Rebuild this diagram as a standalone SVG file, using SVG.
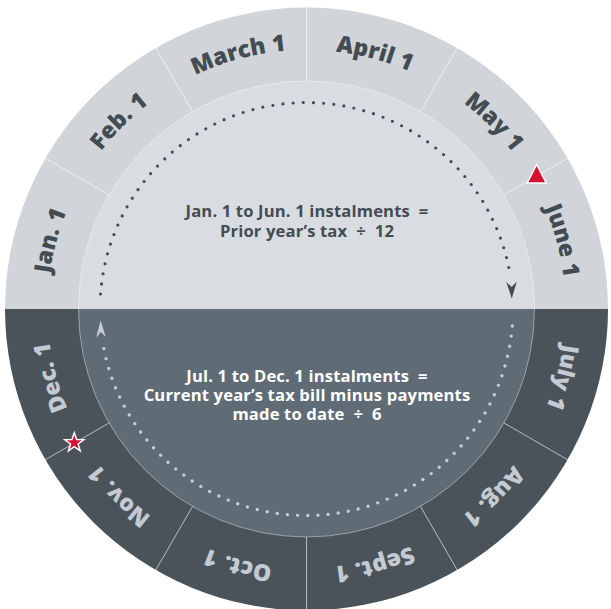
<svg xmlns="http://www.w3.org/2000/svg" width="611" height="609" viewBox="0 0 611 609">
  <style>
    .lbl { font-family: "Open Sans", "Noto Sans", "Liberation Sans", sans-serif; font-weight: 800; font-size: 23px; }
    .lbl-top { fill: #434c53; }
    .lbl-bot { fill: #c3cad1; }
    .ctr { font-family: "Open Sans", "Noto Sans", "Liberation Sans", sans-serif; font-weight: 700; font-size: 16.6px; text-anchor: middle; letter-spacing: 0.15px; }
    .ctr-top { fill: #434c53; }
    .ctr-bot { fill: #ffffff; }
    .sep { stroke: #ffffff; stroke-opacity: 0.6; stroke-width: 1; fill: none; }
    .dots-top { fill: none; stroke: #434c53; stroke-width: 3.2; stroke-linecap: round; stroke-dasharray: 0 10.2; }
    .dots-bot { fill: none; stroke: #c8ced4; stroke-width: 3.4; stroke-linecap: round; stroke-dasharray: 0 10.2; }
  </style>
  <defs>
    <path id="ring" d="M306.5,50 A259,259 0 1 1 306.5,568 A259,259 0 1 1 306.5,50"/>
  </defs>

  <g id="wheel">
    <path d="M5,309 A301.5,301.5 0 0 1 608,309 Z" fill="#d1d5d9"/>
    <path d="M608,309 A301.5,301.5 0 0 1 5,309 Z" fill="#4a535a"/>
    <path d="M78.5,309 A228,228 0 0 1 534.5,309 Z" fill="#d9dce0"/>
    <path d="M534.5,309 A228,228 0 0 1 78.5,309 Z" fill="#606c75"/>
    <circle cx="306.5" cy="309" r="228" fill="none" stroke="#ffffff" stroke-opacity="0.4" stroke-width="1"/>
  </g>

  <g id="connectors">
    <line class="sep" x1="306.5" y1="81" x2="306.5" y2="7.5"/>
    <line class="sep" x1="420.5" y1="111.55" x2="457.25" y2="47.9"/>
    <line class="sep" x1="503.95" y1="195" x2="567.6" y2="158.25"/>
    <line class="sep" x1="503.95" y1="423" x2="567.6" y2="459.75"/>
    <line class="sep" x1="420.5" y1="506.45" x2="457.25" y2="570.1"/>
    <line class="sep" x1="306.5" y1="537" x2="306.5" y2="610.5"/>
    <line class="sep" x1="192.5" y1="506.45" x2="155.75" y2="570.1"/>
    <line class="sep" x1="109.05" y1="423" x2="45.4" y2="459.75"/>
    <line class="sep" x1="109.05" y1="195" x2="45.4" y2="158.25"/>
    <line class="sep" x1="192.5" y1="111.55" x2="155.75" y2="47.9"/>
    <path class="dots-top" d="M100.55,294 A206.5,206.5 0 0 1 510.5,277"/>
    <path d="M506.3,282 L511.8,298.5 L516.8,281.6 L511.6,287 Z" fill="#434c53"/>
    <path class="dots-bot" d="M512.3,326 A206.5,206.5 0 0 1 102.65,342"/>
    <path d="M96.2,337.5 L100.6,320.5 L105.8,337 L100.9,332 Z" fill="#c8ced4"/>
  </g>

  <g id="months">
    <text class="lbl lbl-top" text-anchor="middle"><textPath href="#ring" startOffset="4.1667%">April 1</textPath></text>
    <text class="lbl lbl-top" text-anchor="middle"><textPath href="#ring" startOffset="12.5%">May 1</textPath></text>
    <text class="lbl lbl-top" text-anchor="middle"><textPath href="#ring" startOffset="20.8333%">June 1</textPath></text>
    <text class="lbl lbl-bot" text-anchor="middle"><textPath href="#ring" startOffset="29.1667%">July 1</textPath></text>
    <text class="lbl lbl-bot" text-anchor="middle"><textPath href="#ring" startOffset="37.5%">Aug. 1</textPath></text>
    <text class="lbl lbl-bot" text-anchor="middle"><textPath href="#ring" startOffset="45.8333%">Sept. 1</textPath></text>
    <text class="lbl lbl-bot" text-anchor="middle"><textPath href="#ring" startOffset="54.1667%">Oct. 1</textPath></text>
    <text class="lbl lbl-bot" text-anchor="middle"><textPath href="#ring" startOffset="62.5%">Nov. 1</textPath></text>
    <text class="lbl lbl-bot" text-anchor="middle"><textPath href="#ring" startOffset="70.8333%">Dec. 1</textPath></text>
    <text class="lbl lbl-top" text-anchor="middle"><textPath href="#ring" startOffset="79.1667%">Jan. 1</textPath></text>
    <text class="lbl lbl-top" text-anchor="middle"><textPath href="#ring" startOffset="87.5%">Feb. 1</textPath></text>
    <text class="lbl lbl-top" text-anchor="middle"><textPath href="#ring" startOffset="95.8333%">March 1</textPath></text>
  </g>

  <g id="markers">
    <path id="triangle" d="M536.7,164.5 L546.2,183 L527.2,183 Z" fill="#d6112f" stroke="#ffffff" stroke-width="1.5" stroke-linejoin="miter"/>
    <path id="star" d="M74.3,432.7 L76.66,439.45 L83.81,439.6 L78.1,443.93 L80.18,450.8 L74.3,446.7 L68.42,450.8 L70.5,443.93 L64.79,439.6 L71.94,439.45 Z" fill="#d6112f" stroke="#ffffff" stroke-width="1.5" stroke-linejoin="miter"/>
  </g>

  <g id="top-text">
    <text class="ctr ctr-top" x="307" y="217" xml:space="preserve">Jan. 1 to Jun. 1 instalments  =</text>
    <text class="ctr ctr-top" x="307" y="237" xml:space="preserve">Prior year’s tax  ÷  12</text>
  </g>
  <g id="bottom-text">
    <text class="ctr ctr-bot" x="307" y="381.7" xml:space="preserve">Jul. 1 to Dec. 1 instalments  =</text>
    <text class="ctr ctr-bot" x="307" y="400.7" xml:space="preserve">Current year’s tax bill minus payments</text>
    <text class="ctr ctr-bot" x="307" y="420" xml:space="preserve">made to date  ÷  6</text>
  </g>
</svg>
